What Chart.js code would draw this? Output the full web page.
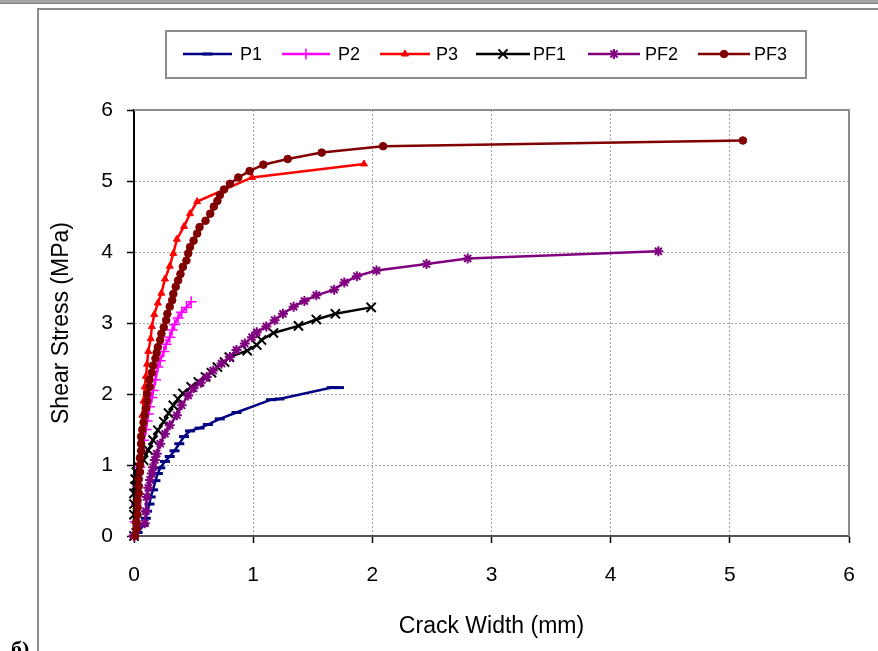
<!DOCTYPE html>
<html lang="en">
<head>
    <meta charset="UTF-8">
    <title>Shear Stress vs Crack Width</title>
    <style>
        body {
            margin: 0;
            background: #ffffff;
            font-family: "Liberation Sans", Arial, sans-serif;
        }

        #chartContainer {
            width: 878px;
            height: 651px;
            position: relative;
        }
    </style>
    <script src="https://cdn.jsdelivr.net/npm/chart.js"></script>
</head>
<body>
    <div id="chartContainer">
        <canvas id="chart1"></canvas>
    </div>

    <script>
        // Series names shown in the legend
        const seriesNames = ['P1', 'P2', 'P3', 'PF1', 'PF2', 'PF3'];

        // Crack width (mm) / shear stress (MPa)
        const p1X = [0, 0.03, 0.08, 0.1, 0.11, 0.13, 0.14, 0.16, 0.18, 0.2, 0.22, 0.26, 0.3, 0.34, 0.38, 0.42, 0.47, 0.55, 0.62, 0.72, 0.86, 1.15, 1.22, 1.66, 1.72];
        const p1Y = [0, 0.05, 0.15, 0.25, 0.35, 0.45, 0.55, 0.65, 0.78, 0.88, 0.96, 1.05, 1.12, 1.2, 1.3, 1.4, 1.48, 1.52, 1.57, 1.65, 1.74, 1.92, 1.93, 2.09, 2.09];

        const p2X = [0, 0.01, 0.02, 0.03, 0.05, 0.07, 0.08, 0.1, 0.11, 0.12, 0.13, 0.15, 0.16, 0.18, 0.2, 0.22, 0.25, 0.27, 0.3, 0.32, 0.34, 0.37, 0.4, 0.44, 0.48];
        const p2Y = [0, 0.2, 0.45, 0.7, 0.97, 1.2, 1.35, 1.5, 1.62, 1.72, 1.82, 1.95, 2.05, 2.2, 2.38, 2.47, 2.6, 2.7, 2.8, 2.9, 2.98, 3.07, 3.15, 3.22, 3.3];

        const p3X = [0, 0.01, 0.02, 0.03, 0.04, 0.05, 0.06, 0.07, 0.07, 0.08, 0.09, 0.1, 0.11, 0.12, 0.14, 0.15, 0.17, 0.2, 0.23, 0.26, 0.3, 0.33, 0.36, 0.42, 0.47, 0.53, 0.99, 1.93];
        const p3Y = [0, 0.2, 0.45, 0.7, 0.9, 1.1, 1.3, 1.5, 1.7, 1.9, 2.1, 2.25, 2.42, 2.6, 2.78, 2.95, 3.12, 3.28, 3.42, 3.62, 3.8, 3.98, 4.18, 4.36, 4.54, 4.71, 5.05, 5.24];

        const pf1X = [0, 0, 0, 0, 0.01, 0.01, 0.02, 0.04, 0.08, 0.12, 0.16, 0.2, 0.25, 0.29, 0.33, 0.37, 0.41, 0.48, 0.54, 0.6, 0.65, 0.7, 0.76, 0.8, 0.95, 1.03, 1.07, 1.17, 1.38, 1.53, 1.69, 1.99];
        const pf1Y = [0, 0.3, 0.45, 0.6, 0.7, 0.8, 0.9, 0.97, 1.07, 1.21, 1.35, 1.49, 1.61, 1.73, 1.84, 1.93, 2.01, 2.1, 2.17, 2.24, 2.3, 2.38, 2.45, 2.52, 2.61, 2.69, 2.76, 2.86, 2.96, 3.05, 3.13, 3.22];

        const pf2X = [0, 0.02, 0.09, 0.1, 0.106, 0.12, 0.134, 0.15, 0.16, 0.175, 0.19, 0.22, 0.26, 0.3, 0.36, 0.4, 0.455, 0.5, 0.56, 0.61, 0.665, 0.735, 0.805, 0.86, 0.93, 0.99, 1.03, 1.11, 1.18, 1.25, 1.34, 1.43, 1.53, 1.68, 1.765, 1.87, 2.035, 2.455, 2.8, 4.4];
        const pf2Y = [0, 0.1, 0.18, 0.35, 0.55, 0.68, 0.79, 0.88, 0.97, 1.07, 1.16, 1.3, 1.44, 1.56, 1.7, 1.84, 1.98, 2.08, 2.16, 2.24, 2.33, 2.43, 2.52, 2.62, 2.71, 2.8, 2.87, 2.95, 3.04, 3.13, 3.23, 3.31, 3.39, 3.47, 3.57, 3.66, 3.74, 3.83, 3.91, 4.01];

        const pf3X = [0.01, 0.02, 0.02, 0.03, 0.03, 0.03, 0.04, 0.04, 0.04, 0.05, 0.05, 0.05, 0.06, 0.06, 0.06, 0.07, 0.08, 0.09, 0.1, 0.11, 0.11, 0.13, 0.13, 0.15, 0.16, 0.18, 0.19, 0.2, 0.22, 0.23, 0.25, 0.27, 0.28, 0.3, 0.32, 0.33, 0.35, 0.37, 0.39, 0.41, 0.44, 0.455, 0.47, 0.5, 0.53, 0.55, 0.6, 0.64, 0.67, 0.7, 0.72, 0.755, 0.805, 0.875, 0.97, 1.085, 1.29, 1.575, 2.09, 5.11];
        const pf3Y = [0, 0.1, 0.2, 0.3, 0.4, 0.5, 0.6, 0.7, 0.8, 0.9, 1.0, 1.1, 1.2, 1.3, 1.4, 1.5, 1.6, 1.7, 1.8, 1.9, 2.0, 2.1, 2.2, 2.3, 2.4, 2.5, 2.58, 2.66, 2.76, 2.85, 2.94, 3.04, 3.13, 3.23, 3.32, 3.41, 3.51, 3.6, 3.69, 3.79, 3.88, 3.98, 4.07, 4.16, 4.26, 4.35, 4.44, 4.54, 4.64, 4.72, 4.8, 4.88, 4.96, 5.05, 5.14, 5.23, 5.31, 5.4, 5.49, 5.57];

        // Axis ticks
        const xTicks = [0, 1, 2, 3, 4, 5, 6];
        const yTicks = [0, 1, 2, 3, 4, 5, 6];

        const FONT = '"Liberation Sans", Arial, sans-serif';

        function toPoints(xs, ys) {
            return xs.map((x, i) => ({ x: x, y: ys[i] }));
        }

        // Marker styles per series (Excel-like)
        const styles = [
            { color: '#000080', pointStyle: 'line', radius: 5, borderWidth: 3 },
            { color: '#FF00FF', pointStyle: 'cross', radius: 5.5, borderWidth: 1.5 },
            { color: '#FF0000', pointStyle: 'triangle', radius: 4, borderWidth: 1 },
            { color: '#000000', pointStyle: 'crossRot', radius: 6.5, borderWidth: 2 },
            { color: '#800080', pointStyle: 'star', radius: 5, borderWidth: 2 },
            { color: '#800000', pointStyle: 'circle', radius: 3.8, borderWidth: 1 }
        ];

        const seriesData = [
            toPoints(p1X, p1Y), toPoints(p2X, p2Y), toPoints(p3X, p3Y),
            toPoints(pf1X, pf1Y), toPoints(pf2X, pf2Y), toPoints(pf3X, pf3Y)
        ];

        const datasets = seriesNames.map((name, i) => ({
            label: name,
            data: seriesData[i],
            showLine: true,
            borderColor: styles[i].color,
            backgroundColor: styles[i].color,
            borderWidth: 2.5,
            pointStyle: styles[i].pointStyle,
            pointRadius: styles[i].radius,
            pointBorderWidth: styles[i].borderWidth,
            pointBorderColor: styles[i].color,
            pointBackgroundColor: styles[i].color,
            tension: 0,
            clip: false,
            order: seriesNames.length - i   // later series on top, like Excel
        }));

        // Frame, plot border and the "б)" label
        const framePlugin = {
            id: 'frame',
            beforeDraw(chart) {
                const ctx = chart.ctx;
                ctx.save();
                ctx.fillStyle = '#ffffff';
                ctx.fillRect(0, 0, chart.width, chart.height);
                // top rule of the page
                ctx.fillStyle = '#a6a6a6';
                ctx.fillRect(0, 0, chart.width, 3);
                ctx.fillStyle = '#7f7f7f';
                ctx.fillRect(0, 3, chart.width, 1);
                // outer chart frame (left + top)
                ctx.strokeStyle = '#8c8c8c';
                ctx.lineWidth = 2;
                ctx.beginPath();
                ctx.moveTo(38, chart.height);
                ctx.lineTo(38, 9);
                ctx.lineTo(chart.width, 9);
                ctx.stroke();
                // side label
                ctx.fillStyle = '#000000';
                ctx.font = 'bold 22px "Liberation Serif", "DejaVu Serif", serif';
                ctx.textBaseline = 'alphabetic';
                ctx.textAlign = 'left';
                ctx.fillText('б)', 11, 656);
                ctx.restore();
            },
            beforeDatasetsDraw(chart) {
                const { ctx, chartArea } = chart;
                ctx.save();
                ctx.strokeStyle = '#8c8c8c';
                ctx.lineWidth = 2;
                ctx.beginPath();
                ctx.moveTo(chartArea.left, chartArea.top);
                ctx.lineTo(chartArea.right, chartArea.top);
                ctx.lineTo(chartArea.right, chartArea.bottom);
                ctx.stroke();
                ctx.restore();
            }
        };

        // Legend with line + marker samples, drawn in a box
        const legendPlugin = {
            id: 'lineLegend',
            afterDraw(chart) {
                const ctx = chart.ctx;
                const lineX = [[183, 232], [282, 330], [380, 430], [476, 530], [588, 640], [698, 750]];
                const textX = [240, 338, 436, 533, 645, 754];
                const cy = 54;
                ctx.save();
                ctx.strokeStyle = '#8c8c8c';
                ctx.lineWidth = 2;
                ctx.strokeRect(166, 31, 640, 47);
                chart.data.datasets.forEach((ds, i) => {
                    ctx.strokeStyle = ds.borderColor;
                    ctx.lineWidth = ds.borderWidth;
                    ctx.beginPath();
                    ctx.moveTo(lineX[i][0], cy);
                    ctx.lineTo(lineX[i][1], cy);
                    ctx.stroke();
                    const cx = (lineX[i][0] + lineX[i][1]) / 2;
                    ctx.fillStyle = ds.pointBackgroundColor;
                    ctx.strokeStyle = ds.pointBorderColor;
                    ctx.lineWidth = ds.pointBorderWidth;
                    if (Chart.helpers && Chart.helpers.drawPoint) {
                        Chart.helpers.drawPoint(ctx, {
                            pointStyle: ds.pointStyle,
                            radius: ds.pointRadius,
                            rotation: 0,
                            borderWidth: ds.pointBorderWidth
                        }, cx, cy);
                    }
                    ctx.fillStyle = '#000000';
                    ctx.font = '18px ' + FONT;
                    ctx.textBaseline = 'middle';
                    ctx.textAlign = 'left';
                    ctx.fillText(ds.label, textX[i], cy + 1);
                });
                ctx.restore();
            }
        };

        const ctx = document.getElementById('chart1').getContext('2d');
        const chart1 = new Chart(ctx, {
            type: 'scatter',
            data: { datasets: datasets },
            plugins: [framePlugin, legendPlugin],
            options: {
                responsive: true,
                maintainAspectRatio: false,
                animation: false,
                layout: {
                    padding: { left: 0, top: 110, right: 29, bottom: 0 }
                },
                plugins: {
                    legend: { display: false },
                    tooltip: { enabled: false }
                },
                scales: {
                    x: {
                        type: 'linear',
                        min: 0,
                        max: 6,
                        afterFit(scale) { scale.height = 115; },
                        afterBuildTicks(scale) { scale.ticks = xTicks.map(v => ({ value: v })); },
                        ticks: {
                            color: '#000000',
                            padding: 20,
                            font: { family: FONT, size: 21 },
                            maxRotation: 0
                        },
                        grid: {
                            color: '#a0a0a0',
                            lineWidth: 1,
                            tickLength: 7,
                            tickColor: '#000000',
                            tickWidth: 1.5
                        },
                        border: { display: true, color: '#555555', width: 2, dash: [2, 2] },
                        title: {
                            display: true,
                            text: 'Crack Width (mm)',
                            color: '#000000',
                            font: { family: FONT, size: 23 },
                            padding: { top: 0, bottom: 11 }
                        }
                    },
                    y: {
                        type: 'linear',
                        min: 0,
                        max: 6,
                        afterFit(scale) { scale.width = 134; },
                        afterBuildTicks(scale) { scale.ticks = yTicks.map(v => ({ value: v })); },
                        ticks: {
                            color: '#000000',
                            padding: 14,
                            font: { family: FONT, size: 21 }
                        },
                        grid: {
                            color: '#a0a0a0',
                            lineWidth: 1,
                            tickLength: 7,
                            tickColor: '#000000',
                            tickWidth: 1.5
                        },
                        border: { display: true, color: '#000000', width: 2, dash: [2, 2] },
                        title: {
                            display: true,
                            text: 'Shear Stress (MPa)',
                            color: '#000000',
                            font: { family: FONT, size: 23 },
                            padding: { top: 48, bottom: 0 }
                        }
                    }
                }
            }
        });
    </script>
</body>
</html>
